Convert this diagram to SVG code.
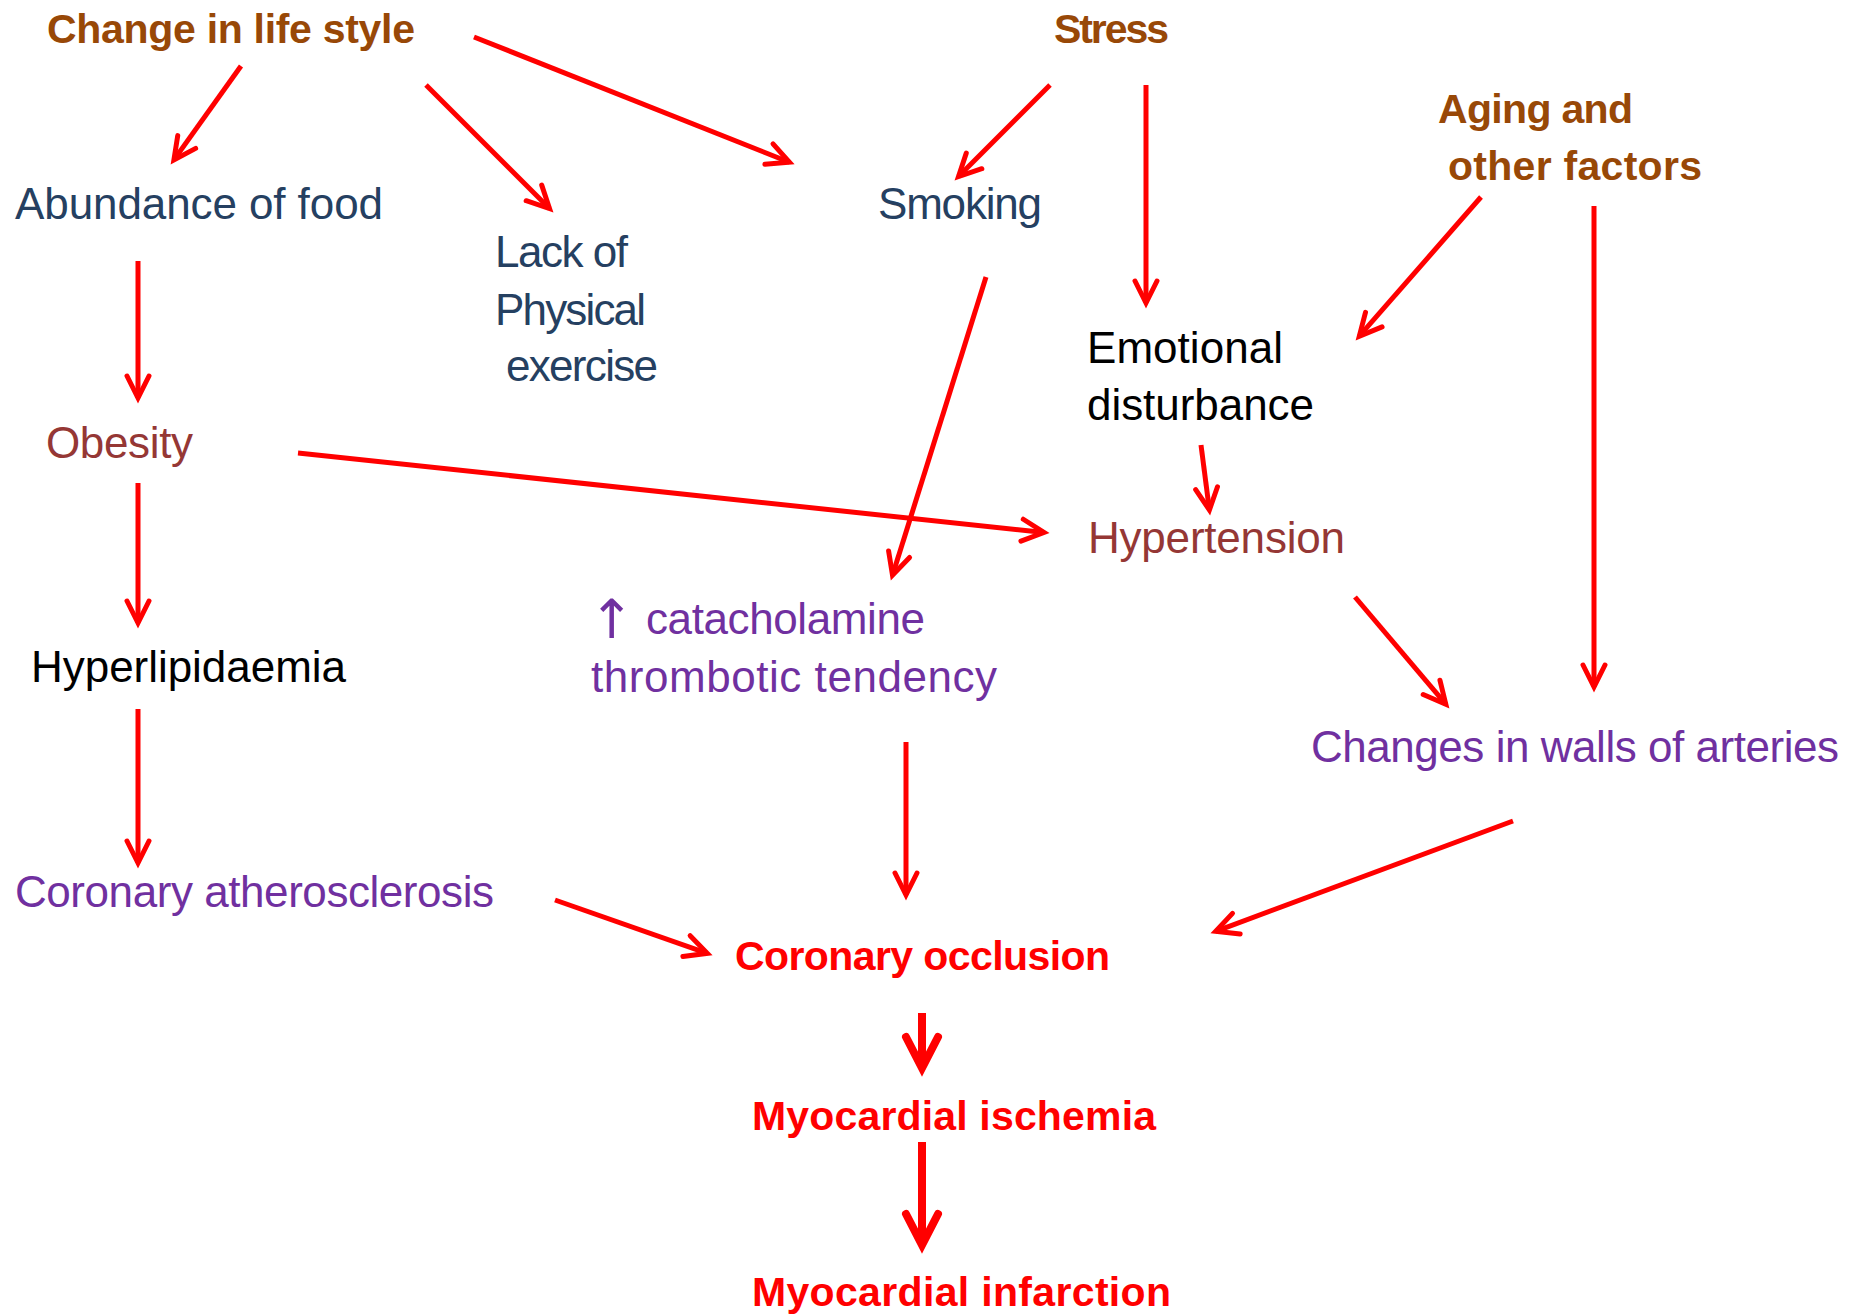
<svg xmlns="http://www.w3.org/2000/svg" width="1866" height="1314" viewBox="0 0 1866 1314">
  <style>
    text { font-family: "Liberation Sans", Arial, sans-serif; font-size: 44px; }
    .src { font-weight: bold; font-size: 41px; fill: #984807; }
    .navy { fill: #254061; }
    .maroon { fill: #953735; }
    .purple { fill: #7030A0; }
    .black { fill: #000000; }
    .outcome { font-weight: bold; font-size: 41px; fill: #FF0000; }
    .link { stroke: #FF0000; stroke-width: 5; fill: none; marker-end: url(#arrow); }
    .link-bold { stroke: #FF0000; stroke-width: 8; fill: none; marker-end: url(#arrow-bold); }
  </style>
  <defs>
    <marker id="arrow" markerUnits="userSpaceOnUse" orient="auto" refX="0" refY="0" markerWidth="60" markerHeight="60" viewBox="-30 -30 60 60" overflow="visible">
      <path d="M-22,-11 L0,0 L-22,11" fill="none" stroke="#FF0000" stroke-width="5" stroke-linecap="round" stroke-linejoin="miter"/>
    </marker>
    <marker id="arrow-bold" markerUnits="userSpaceOnUse" orient="auto" refX="0" refY="0" markerWidth="80" markerHeight="80" viewBox="-40 -40 80 80" overflow="visible">
      <path d="M-31,-16 L0,0 L-31,16" fill="none" stroke="#FF0000" stroke-width="8" stroke-linecap="round" stroke-linejoin="miter"/>
    </marker>
  </defs>

  <rect width="1866" height="1314" fill="#FFFFFF"/>

  <!-- connectors -->
  <g id="connectors">
    <line class="link" x1="241" y1="66" x2="173.9" y2="159.9"/>
    <line class="link" x1="426" y1="85" x2="549.5" y2="208.5"/>
    <line class="link" x1="474" y1="37" x2="789.4" y2="162.2"/>
    <line class="link" x1="1050" y1="85" x2="958.5" y2="176.5"/>
    <line class="link" x1="1146" y1="85" x2="1146" y2="303"/>
    <line class="link" x1="1481" y1="197" x2="1359.3" y2="336.2"/>
    <line class="link" x1="1594" y1="206" x2="1594" y2="687"/>
    <line class="link" x1="138" y1="261" x2="138" y2="398"/>
    <line class="link" x1="986" y1="277" x2="892.5" y2="575.2"/>
    <line class="link" x1="298" y1="453" x2="1044" y2="532.5"/>
    <line class="link" x1="1201" y1="445" x2="1209.4" y2="510"/>
    <line class="link" x1="138" y1="483" x2="138" y2="623"/>
    <line class="link" x1="138" y1="709" x2="138" y2="863"/>
    <line class="link" x1="555" y1="900" x2="707.3" y2="953.3"/>
    <line class="link" x1="906" y1="742" x2="906" y2="895"/>
    <line class="link" x1="1355" y1="597" x2="1445.8" y2="704.2"/>
    <line class="link" x1="1513" y1="821" x2="1215.7" y2="931.3"/>
    <line class="link-bold" x1="922" y1="1013" x2="922" y2="1068"/>
    <line class="link-bold" x1="922" y1="1142" x2="922" y2="1245"/>
  </g>

  <!-- root causes -->
  <g id="change-in-life-style">
    <text class="src" x="47" y="43" textLength="368">Change in life style</text>
  </g>
  <g id="stress">
    <text class="src" x="1054" y="43" textLength="115">Stress</text>
  </g>
  <g id="aging">
    <text class="src" x="1438" y="123" textLength="195">Aging and</text>
    <text class="src" x="1448" y="180" textLength="254">other factors</text>
  </g>

  <!-- lifestyle factors -->
  <g id="abundance-of-food">
    <text class="navy" x="15" y="219" textLength="368">Abundance of food</text>
  </g>
  <g id="lack-of-exercise">
    <text class="navy" x="495" y="267" textLength="133">Lack of</text>
    <text class="navy" x="495" y="325" textLength="151">Physical</text>
    <text class="navy" x="506" y="381" textLength="152">exercise</text>
  </g>
  <g id="smoking">
    <text class="navy" x="878" y="219" textLength="164">Smoking</text>
  </g>
  <g id="emotional-disturbance">
    <text class="black" x="1087" y="363" textLength="196">Emotional</text>
    <text class="black" x="1087" y="420" textLength="227">disturbance</text>
  </g>

  <!-- intermediate conditions -->
  <g id="obesity">
    <text class="maroon" x="46" y="458" textLength="147">Obesity</text>
  </g>
  <g id="hypertension">
    <text class="maroon" x="1088" y="553" textLength="257">Hypertension</text>
  </g>
  <g id="catecholamine">
    <text class="purple" x="589" y="638"><tspan font-family="DejaVu Sans, sans-serif" font-size="54">↑</tspan><tspan x="646" y="634" textLength="279">catacholamine</tspan></text>
    <text class="purple" x="591" y="692" textLength="406">thrombotic tendency</text>
  </g>
  <g id="hyperlipidaemia">
    <text class="black" x="31" y="682" textLength="315">Hyperlipidaemia</text>
  </g>
  <g id="coronary-atherosclerosis">
    <text class="purple" x="15" y="907" textLength="479">Coronary atherosclerosis</text>
  </g>
  <g id="changes-in-walls">
    <text class="purple" x="1311" y="762" textLength="528">Changes in walls of arteries</text>
  </g>

  <!-- outcome chain -->
  <g id="coronary-occlusion">
    <text class="outcome" x="735" y="970" textLength="375">Coronary occlusion</text>
  </g>
  <g id="myocardial-ischemia">
    <text class="outcome" x="752" y="1130" textLength="404">Myocardial ischemia</text>
  </g>
  <g id="myocardial-infarction">
    <text class="outcome" x="752" y="1306" textLength="419">Myocardial infarction</text>
  </g>
</svg>
